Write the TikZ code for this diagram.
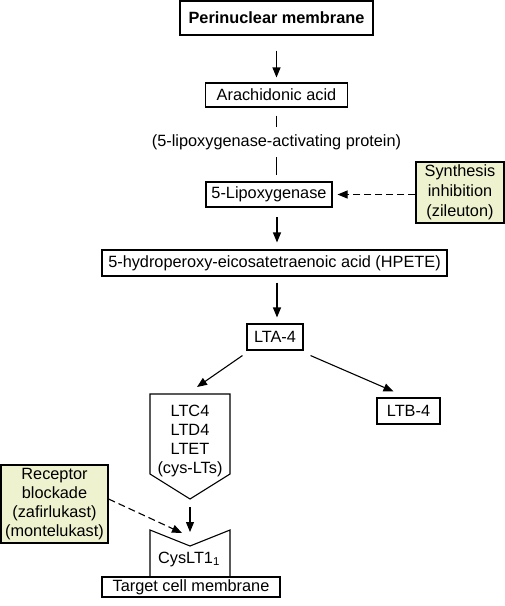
\documentclass[tikz,border=0pt]{standalone}
\usepackage{fontspec}
\setmainfont{Liberation Sans}
\usetikzlibrary{arrows.meta,calc}
\definecolor{drugfill}{RGB}{238,242,206}
\begin{document}
\begin{tikzpicture}[x=1pt,y=-1pt,
  every node/.style={font=\fontsize{16.3}{19}\selectfont, inner sep=0pt, align=center},
  box/.style={draw, line width=1.1pt},
  conn/.style={line width=1.1pt},
  arr/.style={conn, -{Triangle[length=10pt,width=8pt]}},
  darr/.style={arr, dash pattern=on 7pt off 4pt}]
\useasboundingbox (0,0) rectangle (505,606);

\node[box, minimum width=193pt, minimum height=34pt, font=\fontsize{16.3}{19}\selectfont\bfseries] (perin) at (276.5,18) {Perinuclear membrane};
\node[box, minimum width=142pt, minimum height=24pt] (arach) at (276.5,95) {Arachidonic acid};
\node[minimum height=30pt] (flap) at (276.5,142) {(5-lipoxygenase-activating protein)};
\node[box, minimum width=126pt, minimum height=25pt] (lox) at (269,194.5) {5-Lipoxygenase};
\node[box, fill=drugfill, minimum width=88pt, minimum height=61pt, font=\fontsize{16.3}{20}\selectfont] (synth) at (460,192.5) {Synthesis\\inhibition\\(zileuton)};
\node[box, minimum width=345pt, minimum height=26pt] (hpete) at (274.5,263) {5-hydroperoxy-eicosatetraenoic acid (HPETE)};
\node[box, minimum width=56pt, minimum height=26pt] (lta) at (275,337) {LTA-4};
\node[box, minimum width=63pt, minimum height=26pt] (ltb) at (408.5,411) {LTB-4};

% cys-LTs pentagon
\draw[conn] (150,394) -- (230,394) -- (230,474) -- (190,499) -- (150,474) -- cycle;
\node (cys) at (190,441) {LTC4\\LTD4\\LTET\\(cys-LTs)};
\coordinate (ptop) at (197,387);
\coordinate (ptip) at (190,499);

% receptor cup
\draw[conn] (150,577) -- (150,530) -- (190,546) -- (230,530) -- (230,577);
\coordinate (cupnotch) at (190,546);
\node (cyslt) at (189,559) {CysLT1\textsubscript{1}};
\node[box, fill=white, minimum width=178pt, minimum height=20pt] (target) at (191,587) {Target cell membrane};

\node[box, fill=drugfill, minimum width=107pt, minimum height=78pt] (recep) at (54.5,504) {Receptor\\blockade\\(zafirlukast)\\(montelukast)};

% connectors
\draw[arr] ($(perin.south)+(0,15)$) -- ($(arach.north)+(0,-5)$);
\draw[conn] ($(arach.south)+(0,8)$) -- (flap.north);
\draw[conn] (flap.south) -- ($(flap.south)+(0,18)$);
\draw[darr] (synth.west |- lox.east) -- ($(lox.east)+(5,0)$);
\draw[arr] ($(hpete.north)+(2.5,-32)$) -- ($(hpete.north)+(2.5,-7)$);
\draw[arr] ($(hpete.south)+(2.5,6)$) -- ($(lta.north)+(2,-6)$);
\draw[arr] ($(lta.south west)+(-4,5)$) -- (ptop);
\draw[arr] ($(lta.south east)+(7,5)$) -- ($(ltb.north)+(-15,-6)$);
\draw[arr] ($(ptip)+(0,8)$) -- ($(cupnotch)+(0,-14)$);
\draw[darr] ($(recep.east)+(0,-5)$) -- ($(cupnotch)+(-8,-13)$);
\end{tikzpicture}
\end{document}
